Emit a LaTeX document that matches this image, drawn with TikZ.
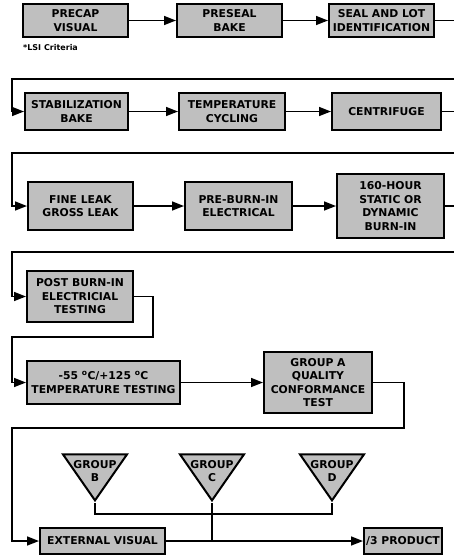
\documentclass[tikz,border=0pt]{standalone}
\usepackage{fontspec}
\newfontfamily\flowfont{DejaVu Sans}
\usetikzlibrary{shapes.geometric, arrows.meta, positioning}

\begin{document}
\begin{tikzpicture}[
  x=1pt, y=-1pt,
  node distance=47pt,
  proc/.style={
    rectangle, draw=black, line width=2pt, fill=black!25,
    minimum width=105pt, minimum height=33pt, inner sep=1pt,
    align=center, font=\flowfont\bfseries\fontsize{10.8}{13.5}\selectfont
  },
  grouptri/.style={
    isosceles triangle, isosceles triangle stretches, shape border rotate=-90,
    draw=black, line width=2pt, fill=black!25, inner sep=0pt,
    minimum width=64pt, minimum height=46pt
  },
  tritext/.style={align=center, font=\flowfont\bfseries\fontsize{10.8}{13.5}\selectfont},
  arrow/.style={-{Triangle[length=12pt,width=9pt]}, line width=1.6pt},
  wire/.style={line width=1.6pt},
  note/.style={font=\flowfont\bfseries\fontsize{8}{9}\selectfont, anchor=west, inner sep=0pt}
]
\useasboundingbox (0,0) rectangle (454,557);

% Reihe 1
\node[proc] (pv) at (75.5,20.5) {PRECAP\\VISUAL};
\node[proc, right=47pt of pv] (pb) {PRESEAL\\BAKE};
\node[proc, right=45pt of pb] (sl) {SEAL AND LOT\\IDENTIFICATION};
\node[note] (lsi) at (23,48) {*LSI Criteria};

% Reihe 2
\node[proc, minimum width=103pt, minimum height=37pt] (sb) at (76.5,111.5) {STABILIZATION\\BAKE};
\node[proc, minimum width=106pt, minimum height=37pt, right=49pt of sb] (tc) {TEMPERATURE\\CYCLING};
\node[proc, minimum width=109pt, minimum height=37pt, right=45pt of tc] (cf) {CENTRIFUGE};

% Reihe 3
\node[proc, minimum height=48pt] (fl) at (80.5,206) {FINE LEAK\\GROSS LEAK};
\node[proc, minimum width=107pt, minimum height=48pt, right=50pt of fl] (pe) {PRE-BURN-IN\\ELECTRICAL};
\node[proc, minimum width=107pt, minimum height=64pt, right=43pt of pe] (bi) {160-HOUR\\STATIC OR\\DYNAMIC\\BURN-IN};

% Reihe 4 und 5
\node[proc, minimum width=106pt, minimum height=51pt] (pbt) at (80,296.5) {POST BURN-IN\\ELECTRICIAL\\TESTING};
\node[proc, minimum width=153pt, minimum height=43pt] (tt) at (103.5,382.5) {-55 \textsuperscript{o}C/+125 \textsuperscript{o}C\\TEMPERATURE TESTING};
\node[proc, minimum width=108pt, minimum height=61pt, right=82pt of tt] (qa) {GROUP A\\QUALITY\\CONFORMANCE\\TEST};

% Gruppen B, C, D
\node[grouptri, anchor=apex, label={[tritext]center:GROUP\\B}] (gb) at (95,503) {};
\node[grouptri, anchor=apex, label={[tritext]center:GROUP\\C}] (gc) at (212,503) {};
\node[grouptri, anchor=apex, label={[tritext]center:GROUP\\D}] (gd) at (332,503) {};

% Reihe 6
\node[proc, minimum width=125pt, minimum height=26pt] (ev) at (102.5,541) {EXTERNAL VISUAL};
\node[proc, minimum width=78pt, minimum height=26pt, right=197pt of ev] (p3) {/3 PRODUCT};

% Hilfspunkte
\coordinate (lft) at (12,0);
\coordinate (rgt) at (454,0);
\coordinate (w1) at (454,79);
\coordinate (w2) at (454,153);
\coordinate (w3) at (454,252);
\coordinate (t4) at (153,337);
\coordinate (t5) at (404,428);
\coordinate (bus) at (0,514);

% Pfeile
\draw[arrow] (pv) -- (pb);
\draw[arrow] (pb) -- (sl);
\draw[wire] (sl.east) -- (sl.east -| rgt);
\draw[arrow] (w1) -| (lft |- sb.west) -- (sb.west);
\draw[arrow] (sb) -- (tc);
\draw[arrow] (tc) -- (cf);
\draw[wire] (cf.east) -- (cf.east -| rgt);
\draw[arrow] (w2) -| (lft |- fl.west) -- (fl.west);
\draw[arrow] (fl) -- (pe);
\draw[arrow] (pe) -- (pe -| bi.west);
\draw[wire] (bi.east) -- (bi.east -| rgt);
\draw[arrow] (w3) -| (lft |- pbt.west) -- (pbt.west);
\draw[arrow] (pbt.east) -| (t4) -- (lft |- t4) |- (tt.west);
\draw[arrow] (tt) -- (qa);
\draw[arrow] (qa.east) -| (t5) -- (lft |- t5) |- (ev.west);
\draw[arrow] (ev) -- (p3);
\draw[wire] (gb.apex) -- (gb.apex |- bus) -- (gd.apex |- bus) -- (gd.apex);
\draw[wire] (gc.apex) -- (gc.apex |- ev.east);

\end{tikzpicture}
\end{document}
